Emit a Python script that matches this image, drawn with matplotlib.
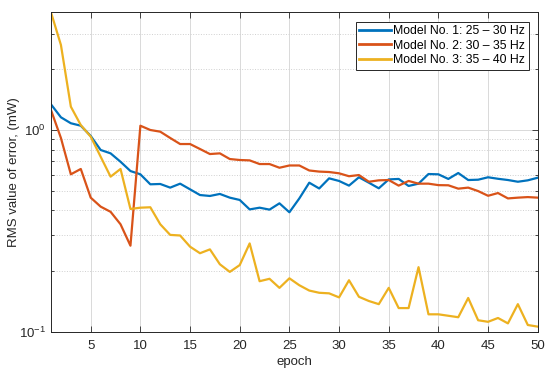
import numpy as np
import matplotlib
matplotlib.use("Agg")
import matplotlib.pyplot as plt
from matplotlib.ticker import LogLocator, NullFormatter, FixedLocator

epochs = np.arange(1, 51)

model_1 = [1.34, 1.156, 1.08, 1.05, 0.934, 0.796, 0.766, 0.696, 0.626, 0.603,
           0.538, 0.54, 0.518, 0.542, 0.508, 0.476, 0.471, 0.482, 0.462, 0.45,
           0.404, 0.412, 0.403, 0.433, 0.391, 0.458, 0.548, 0.513, 0.576, 0.559,
           0.53, 0.583, 0.548, 0.514, 0.569, 0.572, 0.528, 0.542, 0.605, 0.603,
           0.572, 0.612, 0.565, 0.567, 0.583, 0.573, 0.565, 0.554, 0.563, 0.58]

model_2 = [1.256, 0.913, 0.603, 0.641, 0.462, 0.417, 0.393, 0.341, 0.267, 1.05,
           1.0, 0.981, 0.913, 0.852, 0.852, 0.805, 0.76, 0.766, 0.718, 0.71,
           0.707, 0.678, 0.678, 0.65, 0.667, 0.667, 0.63, 0.622, 0.619, 0.61,
           0.59, 0.598, 0.554, 0.563, 0.565, 0.53, 0.559, 0.542, 0.542, 0.533,
           0.532, 0.512, 0.518, 0.498, 0.472, 0.487, 0.458, 0.462, 0.465, 0.462]

model_3 = [3.83, 2.64, 1.305, 1.058, 0.927, 0.737, 0.587, 0.641, 0.406, 0.412,
           0.414, 0.341, 0.302, 0.30, 0.264, 0.245, 0.256, 0.216, 0.198, 0.214,
           0.274, 0.178, 0.183, 0.165, 0.184, 0.17, 0.16, 0.156, 0.155, 0.148,
           0.18, 0.149, 0.142, 0.137, 0.165, 0.131, 0.131, 0.209, 0.122, 0.122,
           0.12, 0.118, 0.147, 0.114, 0.112, 0.117, 0.11, 0.137, 0.108, 0.106]

labels = ["Model No. 1: 25 \u2013 30 Hz",
          "Model No. 2: 30 \u2013 35 Hz",
          "Model No. 3: 35 \u2013 40 Hz"]
colors = ["#0072BD", "#D95319", "#EDB120"]

plt.rcParams['font.family'] = ['Liberation Sans', 'DejaVu Sans']
plt.rcParams['font.size'] = 9.5

fig = plt.figure(figsize=(5.5, 3.74), dpi=100)
ax = fig.add_axes([0.0927, 0.113, 0.885, 0.854])

for y, lab, c in zip([model_1, model_2, model_3], labels, colors):
    ax.plot(epochs, y, color=c, lw=1.6, label=lab)

ax.set_yscale('log')
ax.set_xlim(1, 50)
ax.set_ylim(0.1, 3.83)
ax.xaxis.set_major_locator(FixedLocator(np.arange(5, 51, 5)))
ax.yaxis.set_major_locator(LogLocator(base=10))
ax.yaxis.set_minor_locator(LogLocator(base=10, subs=np.arange(2, 10)))
ax.yaxis.set_minor_formatter(NullFormatter())

axis_col = '#262626'
ax.grid(True, which='major', color='#d9d9d9', lw=0.7, ls='-')
ax.grid(True, which='minor', axis='y', color='#d0d0d0', lw=0.7, ls=':')
ax.set_axisbelow(True)
for s in ax.spines.values():
    s.set_color(axis_col)
    s.set_linewidth(0.7)
ax.tick_params(which='both', direction='in', top=True, right=True,
               colors=axis_col, labelcolor=axis_col, width=0.6)
ax.tick_params(which='major', length=4)
ax.tick_params(which='minor', length=2.5)
ax.tick_params(axis='x', which='major', pad=6)

ax.set_xlabel('epoch', color=axis_col, labelpad=3)
ax.set_ylabel('RMS value of error, (mW)', color=axis_col, labelpad=-1)

leg = ax.legend(loc='upper right', fancybox=False, framealpha=1,
                edgecolor=axis_col, fontsize=8.8, handlelength=2.6,
                borderaxespad=0.75, labelspacing=0.2, handletextpad=0.15,
                borderpad=0.3)
leg.get_frame().set_linewidth(0.7)
for line in leg.get_lines():
    line.set_linewidth(2)

fig.savefig('out.png', dpi=100)
